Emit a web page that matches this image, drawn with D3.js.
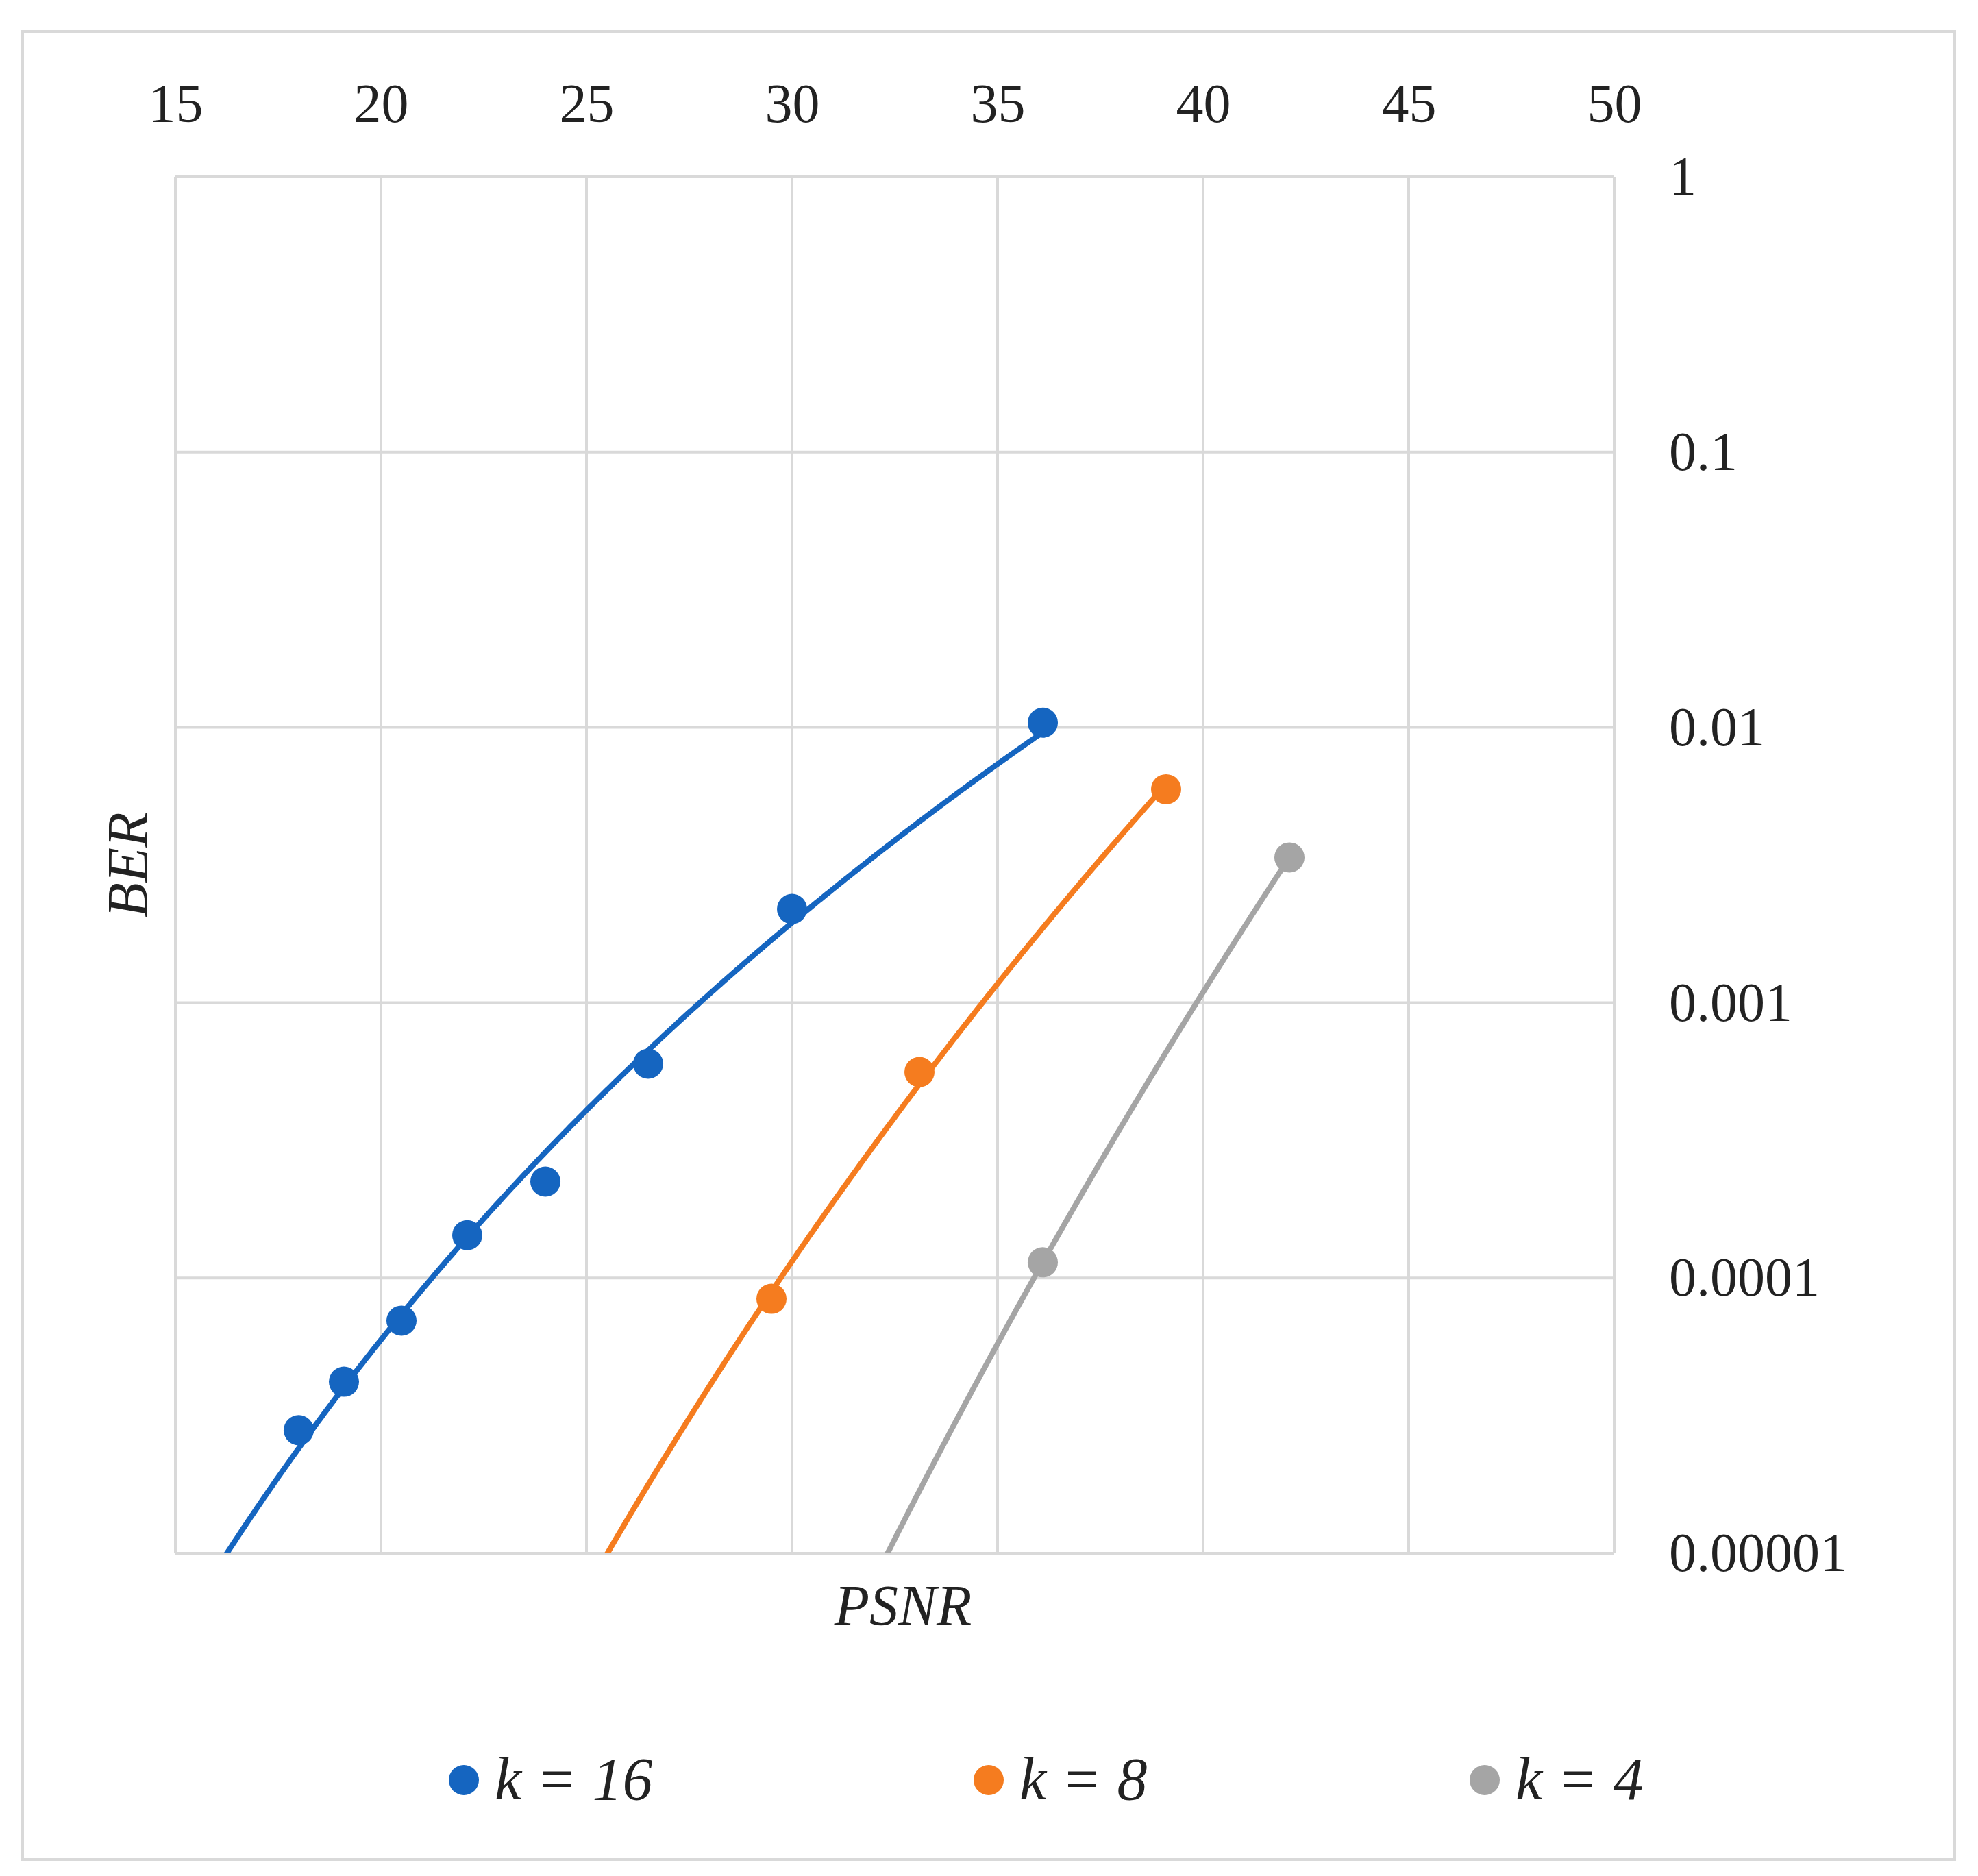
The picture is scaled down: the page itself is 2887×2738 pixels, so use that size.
<!DOCTYPE html>
<html><head><meta charset="utf-8">
<script src="https://cdn.jsdelivr.net/npm/d3@7"></script>
<style>body{margin:0;background:#fff}svg{display:block}text{font-family:"Liberation Serif",serif;fill:#222}</style>
</head><body><svg id="c"></svg>
<script>
const seriesNames = ["k = 16", "k = 8", "k = 4"];
const colors = ["#1565c0", "#f57c1f", "#a5a5a5"];
const psnr16 = [18.0, 19.1, 20.5, 22.1, 24.0, 26.5, 30.0, 36.1];
const ber16 = [2.8e-5, 4.2e-5, 7.0e-5, 1.43e-4, 2.24e-4, 6.0e-4, 2.19e-3, 1.04e-2];
const psnr8 = [29.5, 33.1, 39.1];
const ber8 = [8.4e-5, 5.6e-4, 5.96e-3];
const psnr4 = [36.1, 42.1];
const ber4 = [1.14e-4, 3.37e-3];
const xTicks = [15, 20, 25, 30, 35, 40, 45, 50];
const yTicks = [1, 0.1, 0.01, 0.001, 0.0001, 0.00001];
const yTickLabels = ["1", "0.1", "0.01", "0.001", "0.0001", "0.00001"];

const W = 2887, H = 2738;
const svg = d3.select("#c").attr("width", W).attr("height", H);
svg.append("rect").attr("x", 33).attr("y", 46).attr("width", 2820).attr("height", 2668)
  .attr("fill", "#fff").attr("stroke", "#d9d9d9").attr("stroke-width", 4);

const L = 256, R = 2356, T = 258, B = 2267;
const x = d3.scaleLinear().domain([15, 50]).range([L, R]);
const y = d3.scaleLog().domain([1e-5, 1]).range([B, T]);

const grid = svg.append("g");
xTicks.forEach(v => grid.append("line").attr("x1", x(v)).attr("x2", x(v)).attr("y1", T).attr("y2", B)
  .attr("stroke", "#d9d9d9").attr("stroke-width", 4));
yTicks.forEach(v => grid.append("line").attr("x1", L).attr("x2", R).attr("y1", y(v)).attr("y2", y(v))
  .attr("stroke", "#d9d9d9").attr("stroke-width", 4));

const xAxis = svg.append("g").attr("transform", `translate(0,${T - 80})`)
  .call(d3.axisTop(x).tickValues(xTicks).tickSize(0).tickPadding(0));
xAxis.select(".domain").remove();
xAxis.selectAll("text").attr("font-size", 80).attr("font-family", "Liberation Serif").attr("fill", "#222");

const yAxis = svg.append("g").attr("transform", `translate(${R + 80},0)`)
  .call(d3.axisRight(y).tickValues(yTicks).tickFormat((d, i) => yTickLabels[i]).tickSize(0).tickPadding(0));
yAxis.select(".domain").remove();
yAxis.selectAll("text").attr("font-size", 80).attr("font-family", "Liberation Serif").attr("fill", "#222");

svg.append("text").attr("transform", `translate(215,${(T + B) / 2}) rotate(-90)`).attr("text-anchor", "middle")
  .attr("font-size", 84).attr("font-style", "italic").text("BER");
svg.append("text").attr("x", x(32.7)).attr("y", 2372).attr("text-anchor", "middle")
  .attr("font-size", 84).attr("font-style", "italic").text("PSNR");

svg.append("defs").append("clipPath").attr("id", "clip").append("rect")
  .attr("x", L).attr("y", T).attr("width", R - L).attr("height", B - T);

// power trendline fitted to each series: ln(ber) = a + b ln(psnr)
function powerFit(xs, ys) {
  const lx = xs.map(Math.log), ly = ys.map(Math.log);
  const mx = d3.mean(lx), my = d3.mean(ly);
  const b = d3.sum(lx, (v, i) => (v - mx) * (ly[i] - my)) / d3.sum(lx, v => (v - mx) ** 2);
  return { a: my - b * mx, b };
}
const series = [[psnr16, ber16], [psnr8, ber8], [psnr4, ber4]];
const line = d3.line().x(d => x(d[0])).y(d => y(d[1]));
series.forEach(([xs, ys], k) => {
  const f = powerFit(xs, ys);
  const pts = d3.range(15, d3.max(xs) + 0.001, 0.05).map(v => [v, Math.exp(f.a + f.b * Math.log(v))]);
  svg.append("path").datum(pts).attr("d", line).attr("fill", "none").attr("stroke", colors[k])
    .attr("stroke-width", 8).attr("clip-path", "url(#clip)");
  svg.append("g").selectAll("circle").data(xs.map((v, i) => [v, ys[i]])).join("circle")
    .attr("cx", d => x(d[0])).attr("cy", d => y(d[1])).attr("r", 22).attr("fill", colors[k]);
});

const legX = [677, 1443, 2167];
seriesNames.forEach((n, k) => {
  svg.append("circle").attr("cx", legX[k]).attr("cy", 2598).attr("r", 22).attr("fill", colors[k]);
  svg.append("text").attr("x", legX[k] + 45).attr("y", 2626).attr("font-size", 88)
    .attr("font-style", "italic").text(n);
});
</script></body></html>
